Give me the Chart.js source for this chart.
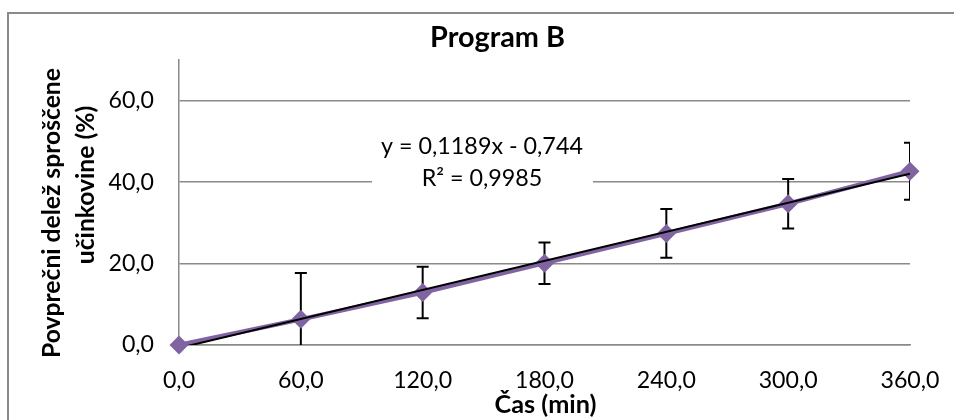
<!DOCTYPE html>
<html><head><meta charset="utf-8">
<script src="https://cdn.jsdelivr.net/npm/chart.js@4"></script>
<style>html,body{margin:0;padding:0;background:#fff;overflow:hidden}canvas{display:block}</style>
</head><body>
<canvas id="c" width="954" height="420"></canvas>
<script>
// ---- data ----
const times = [0, 60, 120, 180, 240, 300, 360];
const released = [0, 6.3, 12.9, 20.1, 27.4, 34.7, 42.7];
const errors = [0, 11.4, 6.3, 5.1, 6.0, 6.1, 7.0];
const trendX = [0, 360];
const trendY = [-0.744, 42.06];
const xTicks = [0, 60, 120, 180, 240, 300, 360];
const yTicks = [0, 20, 40, 60];
const titleText = 'Program B';
const xTitle = 'Čas (min)';
const yTitleLines = ['Povprečni delež sproščene', 'učinkovine (%)'];
const eqLines = ['y = 0,1189x - 0,744', 'R² = 0,9985'];

// ---- fonts ----
const FAMILY = 'Lato';
const mctx = document.createElement('canvas').getContext('2d');
function fit(text, w, weight) {
  mctx.font = weight + ' 100px ' + FAMILY;
  return 100 * w / mctx.measureText(text).width;
}
const tickSize = fit('360,0', 59, 'normal');
const eqSize = fit(eqLines[0], 202, 'normal');
const titleSize = fit(titleText, 135, 'bold');
const xTitleSize = fit(xTitle, 102, 'bold');
const yTitleSize = fit(yTitleLines[0], 290, 'bold');
const fmt = v => Number(v).toFixed(1).replace('.', ',');
const GRID = '#8a8a8a';
const PURPLE = '#8064A2';

const decor = {
  id: 'decor',
  beforeDraw(chart) {
    const ctx = chart.ctx;
    ctx.save();
    ctx.fillStyle = '#fff';
    ctx.fillRect(0, 0, chart.width, chart.height);
    ctx.strokeStyle = GRID;
    ctx.lineWidth = 2;
    ctx.beginPath();
    ctx.moveTo(8, 420); ctx.lineTo(8, 13); ctx.lineTo(954, 13);
    ctx.stroke();
    ctx.restore();
  },
  beforeDatasetsDraw(chart) {
    const ctx = chart.ctx, xs = chart.scales.x, ys = chart.scales.y, a = chart.chartArea;
    ctx.save();
    ctx.beginPath();
    ctx.rect(a.left, a.top, a.right - a.left, a.bottom - a.top);
    ctx.clip();
    ctx.strokeStyle = '#000';
    ctx.lineWidth = 2;
    times.forEach((t, i) => {
      if (!errors[i]) return;
      const px = xs.getPixelForValue(t);
      const top = ys.getPixelForValue(released[i] + errors[i]);
      const bot = ys.getPixelForValue(released[i] - errors[i]);
      ctx.beginPath();
      ctx.moveTo(px, top); ctx.lineTo(px, bot);
      ctx.moveTo(px - 6, top); ctx.lineTo(px + 6, top);
      ctx.moveTo(px - 6, bot); ctx.lineTo(px + 6, bot);
      ctx.stroke();
    });
    ctx.restore();
  },
  afterDraw(chart) {
    const ctx = chart.ctx;
    ctx.save();
    ctx.fillStyle = '#fff';
    ctx.fillRect(372, 128, 221, 68);
    ctx.fillStyle = '#000';
    ctx.textAlign = 'center';
    ctx.textBaseline = 'alphabetic';
    ctx.font = 'normal ' + eqSize + 'px ' + FAMILY;
    ctx.fillText(eqLines[0], 482, 154);
    ctx.fillText(eqLines[1], 482, 185.7);
    ctx.font = 'bold ' + titleSize + 'px ' + FAMILY;
    ctx.fillText(titleText, 497.5, 47.3);
    ctx.font = 'bold ' + xTitleSize + 'px ' + FAMILY;
    ctx.fillText(xTitle, 545.5, 412.5);
    ctx.font = 'bold ' + yTitleSize + 'px ' + FAMILY;
    ctx.save(); ctx.translate(60, 213); ctx.rotate(-Math.PI / 2); ctx.fillText(yTitleLines[0], 0, 0); ctx.restore();
    ctx.save(); ctx.translate(93.5, 185); ctx.rotate(-Math.PI / 2); ctx.fillText(yTitleLines[1], 0, 0); ctx.restore();
    ctx.restore();
  }
};

new Chart(document.getElementById('c'), {
  type: 'line',
  data: {
    datasets: [
      {
        label: 'Linear trend',
        data: trendX.map((x, i) => ({x: x, y: trendY[i]})),
        borderColor: '#000', borderWidth: 2, pointRadius: 0, tension: 0,
        clip: 0, order: 0
      },
      {
        label: 'Program B',
        data: times.map((t, i) => ({x: t, y: released[i]})),
        borderColor: PURPLE, backgroundColor: PURPLE, borderWidth: 4.5, tension: 0,
        pointStyle: 'rectRot', pointRadius: 9.5, pointHoverRadius: 9.5,
        pointBackgroundColor: PURPLE, pointBorderWidth: 0,
        clip: false, order: 1
      }
    ]
  },
  options: {
    responsive: false,
    animation: false,
    devicePixelRatio: 1,
    layout: {padding: {left: 0, top: 60, right: 44, bottom: 0}},
    plugins: {legend: {display: false}, tooltip: {enabled: false}, title: {display: false}},
    scales: {
      x: {
        type: 'linear', min: 0, max: 360,
        afterBuildTicks: s => { s.ticks = xTicks.map(v => ({value: v})); },
        afterFit: s => { s.height = 75; s.paddingLeft = 0; s.paddingRight = 0; },
        grid: {display: false, drawTicks: false},
        border: {display: true, color: GRID, width: 1.5},
        ticks: {padding: 22, color: '#000', maxRotation: 0, autoSkip: false,
          font: {family: FAMILY, size: tickSize}, callback: v => fmt(v)}
      },
      y: {
        type: 'linear', min: 0, max: 70,
        afterBuildTicks: s => { s.ticks = yTicks.map(v => ({value: v})); },
        afterFit: s => { s.width = 179; s.paddingTop = 0; s.paddingBottom = 0; },
        grid: {color: GRID, lineWidth: 1.5, drawTicks: false},
        border: {display: true, color: GRID, width: 1.5},
        ticks: {padding: 25, color: '#000', autoSkip: false,
          font: {family: FAMILY, size: tickSize}, callback: v => fmt(v)}
      }
    }
  },
  plugins: [decor]
});
</script>
</body></html>
